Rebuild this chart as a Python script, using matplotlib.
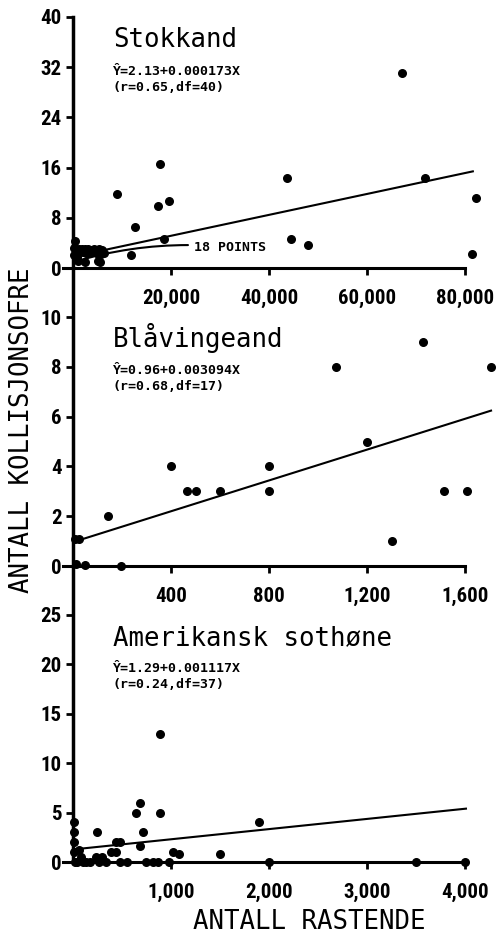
import matplotlib.pyplot as plt
from matplotlib.lines import Line2D
from matplotlib.ticker import FuncFormatter
from matplotlib import font_manager

# Stokkand
stokk_x = [67050, 17700, 9050, 17360, 19540, 12730, 11780, 18520, 43700, 44590,
           47860, 71820, 82230, 81420,
           500, 300, 700, 1200, 1800, 2400, 3000, 3600, 4200, 4800, 5400, 6000,
           900, 1500, 2100, 2700, 3300, 3900, 4500, 5100, 5700, 6300,
           1000, 2500, 5200, 5600, 200, 800]
stokk_y = [31.0, 16.6, 11.8, 9.9, 10.6, 6.6, 2.1, 4.7, 14.4, 4.6,
           3.6, 14.3, 11.2, 2.2,
           4.3, 3.2, 3.0, 3.0, 3.1, 3.0, 3.0, 2.9, 3.0, 2.9, 3.0, 2.8,
           2.6, 2.5, 2.6, 2.4, 2.5, 2.6, 2.5, 2.3, 2.2, 2.4,
           1.1, 1.0, 1.1, 1.0, 2.0, 1.8]
stokk_line_x = [0, 81600]
stokk_line_y = [1.8, 15.4]

# Blåvingeand
blav_x = [1430, 1074, 1706, 1200, 400, 800, 465, 503, 600, 800, 1513, 1607,
          1300, 144, 25, 7, 11, 48, 194]
blav_y = [9, 8, 8, 5, 4, 4, 3, 3, 3, 3, 3, 3, 1, 2, 1.1, 1.1, 0.1, 0.05, 0]
blav_line_x = [0, 1706]
blav_line_y = [0.96, 6.24]

# Amerikansk sothøne
soth_x = [890, 680, 646, 884, 1900, 717, 245, 7, 7, 7, 442, 483, 683, 391, 442,
          1020, 1081, 1500, 58, 85, 2000, 3500, 4000, 980, 750, 815, 870, 270,
          333, 476, 100, 170, 238, 20, 40, 10, 130, 300, 550]
soth_y = [13, 6, 5, 5, 4, 3, 3, 4, 3, 2, 2, 2, 1.6, 1, 1, 1, 0.85, 0.85, 1.2,
          0.5, 0, 0, 0, 0, 0, 0, 0, 0, 0, 0, 0, 0, 0.5, 0, 0, 1, 0, 0.5, 0]
soth_line_x = [30, 4010]
soth_line_y = [1.3, 5.4]

panels = [
    dict(x=stokk_x, y=stokk_y, lx=stokk_line_x, ly=stokk_line_y,
         title='Stokkand', eq='Ŷ=2.13+0.000173X', stat='(r=0.65,df=40)',
         xlim=85714, xend=80000, xticks=[20000, 40000, 60000, 80000],
         ylim=40, yticks=[0, 8, 16, 24, 32, 40], pos=[17, 268]),
    dict(x=blav_x, y=blav_y, lx=blav_line_x, ly=blav_line_y,
         title='Blåvingeand', eq='Ŷ=0.96+0.003094X', stat='(r=0.68,df=17)',
         xlim=1714, xend=1600, xticks=[400, 800, 1200, 1600],
         ylim=10, yticks=[0, 2, 4, 6, 8, 10], pos=[317, 566]),
    dict(x=soth_x, y=soth_y, lx=soth_line_x, ly=soth_line_y,
         title='Amerikansk sothøne', eq='Ŷ=1.29+0.001117X', stat='(r=0.24,df=37)',
         xlim=4286, xend=4000, xticks=[1000, 2000, 3000, 4000],
         ylim=25, yticks=[0, 5, 10, 15, 20, 25], pos=[615, 862]),
]

# narrow bold font for tick labels, if one is installed
installed = {f.name for f in font_manager.fontManager.ttflist}
tick_font, tick_size = 'DejaVu Sans', 12
for name in ['Liberation Sans Narrow', 'DejaVu Sans Condensed', 'Roboto Condensed']:
    if name in installed:
        tick_font, tick_size = name, 15
        break

W, H = 497, 938
fig = plt.figure(figsize=(W / 100, H / 100), dpi=100)
mono = 'DejaVu Sans Mono'
left, right = 73, 493

axes = []
for p in panels:
    top, bot = p['pos']
    ax = fig.add_axes([left / W, 1 - bot / H, (right - left) / W, (bot - top) / H])
    ax.scatter(p['x'], p['y'], s=30, color='black', zorder=3, clip_on=False)
    ax.plot(p['lx'], p['ly'], color='black', lw=1.5)
    ax.set_xlim(0, p['xlim'])
    ax.set_ylim(0, p['ylim'])
    ax.set_xticks(p['xticks'])
    ax.set_yticks(p['yticks'])
    ax.xaxis.set_major_formatter(FuncFormatter(lambda v, pos: f'{int(v):,}'))
    for s in ['top', 'right', 'left']:
        ax.spines[s].set_visible(False)
    ax.spines['bottom'].set_linewidth(2.2)
    ax.spines['bottom'].set_bounds(-p['xlim'] * 0.025, p['xend'])
    ax.tick_params(axis='both', width=2, length=5, labelsize=tick_size, direction='out')
    ax.tick_params(axis='x', pad=10)
    ax.tick_params(axis='y', pad=3)
    for lab in ax.get_xticklabels() + ax.get_yticklabels():
        lab.set_family(tick_font)
        lab.set_fontweight('bold')
        lab.set_fontstretch('condensed')
    ax.text(0.095, 0.88, p['title'], transform=ax.transAxes, family=mono,
            fontsize=18.5)
    ax.text(0.095, 0.77, p['eq'], transform=ax.transAxes, family=mono,
            fontsize=9.5, fontweight='bold')
    ax.text(0.095, 0.705, p['stat'], transform=ax.transAxes, family=mono,
            fontsize=9.5, fontweight='bold')
    axes.append(ax)

# annotation for the cluster in the first panel
axes[0].annotate('18 POINTS', xy=(300, 1.0), xytext=(24600, 3.3),
                 family=mono, fontsize=9.5, fontweight='bold', va='center',
                 arrowprops=dict(arrowstyle='-', lw=1.5, color='black',
                                 connectionstyle='arc3,rad=0.1',
                                 shrinkA=2, shrinkB=0))

# continuous left axis line through all panels
fig.add_artist(Line2D([left / W, left / W], [1 - 17 / H, 1 - 862 / H],
                      color='black', lw=2.5))

fig.text(22 / W, 1 - 430 / H, 'ANTALL KOLLISJONSOFRE', rotation=90,
         ha='center', va='center', family=mono, fontsize=18.5)
fig.text(309 / W, 1 - 922 / H, 'ANTALL RASTENDE', ha='center', va='center',
         family=mono, fontsize=18.5)

fig.savefig('out.png', dpi=100)
